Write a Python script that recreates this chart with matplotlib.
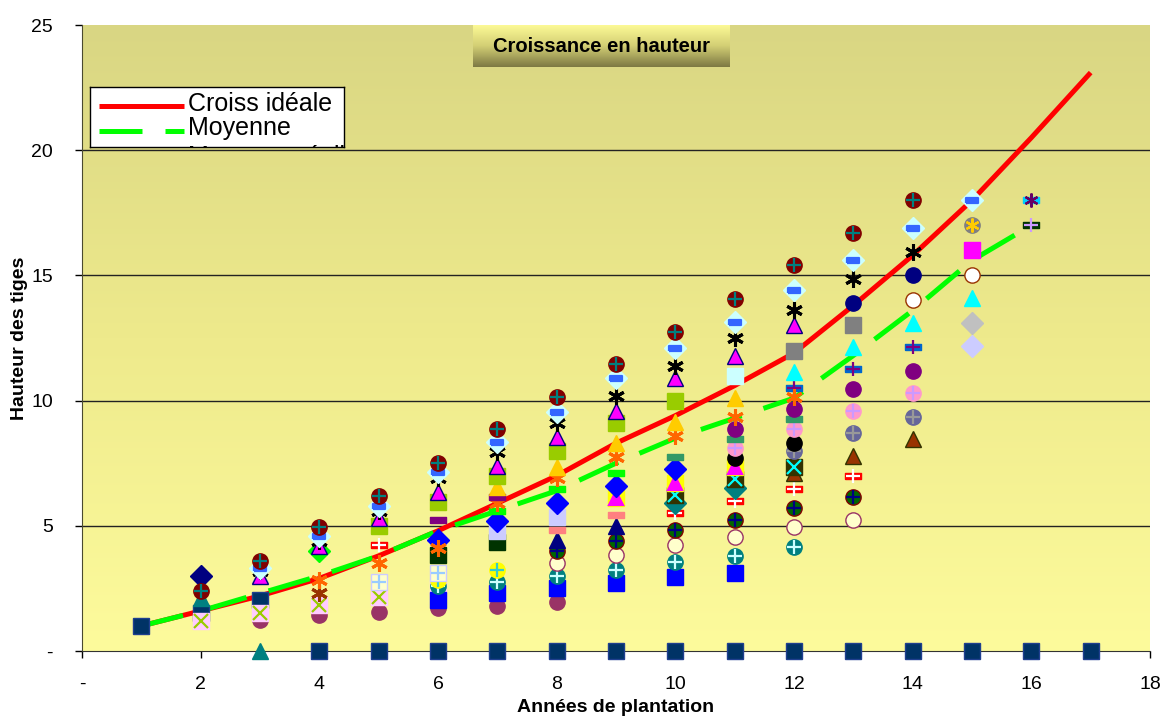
import numpy as np
import matplotlib.pyplot as plt
from matplotlib.colors import LinearSegmentedColormap
from matplotlib.ticker import FuncFormatter, MultipleLocator

plt.rcParams['font.family'] = ['Liberation Sans', 'DejaVu Sans']

N = np.nan
annees = list(range(1, 18))

# courbes
croiss_ideale = [1.0, 1.6, 2.2, 2.9, 3.8, 4.8, 5.9, 7.0, 8.3, 9.4, 10.6, 11.9, 13.8, 15.8, 18.0, 20.5, 23.1]
moyenne = [1.0, 1.6, 2.3, 3.0, 3.8, 4.8, 5.6, 6.4, 7.5, 8.5, 9.3, 10.1, 11.8, 13.6, 15.6, 17.0, N]

# hauteurs des tiges (une liste par arbre, années 1 à 17)
maroon = [N, 2.4, 3.6, 4.95, 6.2, 7.5, 8.85, 10.15, 11.45, 12.75, 14.05, 15.4, 16.7, 18.0, N, N, N]
diamant = [N, N, 3.3, 4.6, 5.8, 7.15, 8.35, 9.55, 10.9, 12.1, 13.15, 14.4, 15.6, 16.9, 18.0, N, N]
asterisque = [N, N, 3.2, 4.4, 5.6, 6.9, 7.95, 9.1, 10.2, 11.4, 12.5, 13.6, 14.85, 15.95, N, N, N]
tri_magenta = [N, N, 3.0, 4.2, 5.3, 6.35, 7.4, 8.55, 9.6, 10.9, 11.8, 13.0, N, N, N, N, N]
rond_marine = [N, N, N, N, N, N, N, N, N, N, N, N, 13.9, 15.0, N, N, N]
carre_olive = [N, N, N, N, 5.0, 5.95, 7.0, 8.0, 9.1, 10.0, N, N, N, N, N, N, N]
carre_cyan = [N, N, N, N, N, N, N, N, N, N, 11.0, N, N, N, N, N, N]
carre_gris = [N, N, N, N, N, N, N, N, N, N, N, 12.0, 13.0, N, N, N, N]
rond_gris = [N, N, N, N, N, N, N, N, N, N, N, N, N, N, 17.0, N, N]
carre_magenta = [N, N, N, N, N, N, N, N, N, N, N, N, N, N, 16.0, N, N]
rond_blanc = [N, N, N, N, N, N, N, N, N, N, N, N, N, 14.0, 15.0, N, N]
tri_jaune = [N, N, N, N, N, N, 6.55, 7.35, 8.3, 9.15, 10.1, N, N, N, N, N, N]
tri_turquoise = [N, N, N, N, N, N, N, N, N, N, N, 11.15, 12.15, 13.1, 14.1, N, N]
ast_orange = [N, N, N, 2.85, 3.5, 4.1, 5.9, 6.9, 7.75, 8.6, 9.35, 10.15, N, N, N, N, N]
rect_bleu = [N, N, N, N, N, N, N, N, N, N, N, 10.5, 11.25, 12.15, N, N, N]
rond_violet = [N, N, N, N, N, N, N, N, N, N, 8.85, 9.65, 10.45, 11.2, N, N, N]
rect_vert = [N, N, N, N, N, N, 5.6, 6.45, 7.1, N, N, N, N, N, N, N, N]
rect_vert_mer = [N, N, N, N, N, N, N, N, N, 7.75, 8.45, 9.25, N, N, N, N, N]
losange_bleu = [N, N, N, N, N, 4.45, 5.2, 5.9, 6.6, 7.25, N, N, N, N, N, N, N]
rond_rose = [N, N, N, N, N, N, N, N, N, N, 8.1, 8.85, 9.6, 10.3, N, N, N]
rond_noir = [N, N, N, N, N, N, N, N, N, N, 7.7, 8.3, N, N, N, N, N]
rond_ardoise = [N, N, N, N, N, N, N, N, N, N, N, 8.0, 8.7, 9.35, N, N, N]
tri_magenta_j = [N, N, N, N, N, N, N, N, 6.1, 6.7, 7.35, N, N, N, N, N, N]
x_cyan = [N, N, N, N, N, N, N, N, N, 6.25, 6.85, 7.35, N, N, N, N, N]
losange_sarcelle = [N, N, N, N, N, N, N, N, N, 5.9, 6.5, N, N, N, N, N, N]
tri_brun = [N, N, N, N, N, N, N, N, N, N, N, 7.1, 7.8, 8.45, N, N, N]
rect_rouge = [N, N, N, N, 4.25, N, N, N, N, 5.5, 6.0, 6.45, 7.0, N, N, N, N]
carre_lavande = [N, N, N, N, N, N, 4.8, 5.35, N, N, N, N, N, N, N, N, N]
rect_saumon = [N, N, N, N, N, N, N, 4.85, 5.45, N, N, N, N, N, N, N, N]
tri_marine = [N, N, N, N, N, N, N, 4.45, 5.0, N, N, N, N, N, N, N, N]
carre_vert_fonce = [N, N, N, N, N, 3.85, 4.35, N, N, N, N, N, N, N, N, N, N]
rond_vert = [N, N, N, N, N, N, N, 4.0, 4.4, 4.85, 5.25, 5.7, 6.15, N, N, N, N]
rond_creme = [N, N, N, N, N, N, N, 3.5, 3.85, 4.25, 4.55, 4.95, 5.25, N, N, N, N]
ast_sarcelle = [N, N, N, N, N, 2.6, 2.75, 3.0, 3.25, 3.55, 3.8, 4.15, N, N, N, N, N]
carre_bleu = [N, N, N, N, N, 2.05, 2.3, 2.5, 2.7, 2.95, 3.1, N, N, N, N, N, N]
rond_prune = [N, N, 1.25, 1.45, 1.55, 1.7, 1.8, 1.95, N, N, N, N, N, N, N, N, N]
x_olive = [N, 1.2, 1.5, 1.85, 2.15, 2.5, N, N, N, N, N, N, N, N, N, N, N]
carre_marine = [1.0, 1.5, 2.05, 0, 0, 0, 0, 0, 0, 0, 0, 0, 0, 0, 0, 0, 0]
tri_sarcelle = [N, 2.1, 0, N, N, N, N, N, N, N, N, N, N, N, N, N, N]
tri_gris = [N, N, 3.05, N, N, N, N, N, N, N, N, N, N, N, N, N, N]
losange_vert = [N, N, N, 4.0, N, N, N, N, N, N, N, N, N, N, N, N, N]
losange_marine = [N, 3.0, N, N, N, N, N, N, N, N, N, N, N, N, N, N, N]
rond_jaune = [N, N, N, N, N, 2.85, 3.25, N, N, N, N, N, N, N, N, N, N]
carre_creme = [N, N, N, N, 2.75, 3.1, N, N, N, N, N, N, N, N, N, N, N]
ast_brun = [N, N, N, 2.3, N, N, N, N, N, N, N, N, N, N, N, N, N]
rect_violet = [N, N, N, N, N, 5.25, 6.15, N, N, N, N, N, N, N, N, N, N]
losange_argent = [N, N, N, N, N, N, N, N, N, N, N, N, N, N, 13.1, N, N]
losange_lavande = [N, N, N, N, N, N, N, N, N, N, N, N, N, N, 12.2, N, N]
rect_cyan = [N, N, N, N, N, N, N, N, N, N, N, N, N, N, N, 18.0, N]
rect_vert_f = [N, N, N, N, N, N, N, N, N, N, N, N, N, N, N, 17.0, N]

RECT = [(-1, -0.45), (1, -0.45), (1, 0.45), (-1, 0.45), (-1, -0.45)]
AST = (6, 2, 0)

# (valeurs, marqueur, fond, bord, marqueur superposé, couleur superposée)
series = [
    (carre_marine, 's', '#003366', '#1f3f8f', None, None),
    (tri_sarcelle, '^', '#008080', '#008080', None, None),
    (rond_prune, 'o', '#993366', '#993366', None, None),
    (x_olive, 's', '#ffccff', '#ffccff', 'x', '#99cc00'),
    (carre_bleu, 's', '#0000ff', '#0000ff', None, None),
    (ast_sarcelle, 'o', '#008080', '#008080', '+', '#ccffff'),
    (rond_creme, 'o', '#ffffcc', '#993366', None, None),
    (rond_vert, 'o', '#006600', '#800000', '+', '#000080'),
    (carre_vert_fonce, 's', '#003300', '#003300', None, None),
    (rond_jaune, 'o', '#ffff00', '#ffff00', '+', '#33cccc'),
    (carre_creme, 's', '#ffffcc', '#ccccff', '+', '#99ccff'),
    (ast_brun, AST, '#993300', '#993300', None, None),
    (tri_marine, '^', '#000080', '#000080', None, None),
    (rect_saumon, RECT, '#ff8080', '#ff8080', None, None),
    (carre_lavande, 's', '#ccccff', '#ccccff', None, None),
    (rect_rouge, RECT, '#ff0000', '#ff0000', '+', '#ffffff'),
    (tri_brun, '^', '#993300', '#333300', None, None),
    (losange_sarcelle, 'D', '#008080', '#008080', None, None),
    (x_cyan, 's', '#333300', '#333300', 'x', '#00ffff'),
    (tri_magenta_j, 's', '#ffff00', '#ffff00', '^', '#ff00ff'),
    (rond_ardoise, 'o', '#666699', '#666699', '+', '#999999'),
    (rond_noir, 'o', '#000000', '#000000', None, None),
    (rond_rose, 'o', '#ff99cc', '#ff99cc', '+', '#cc99ff'),
    (losange_bleu, 'D', '#0000ff', '#0000ff', None, None),
    (rect_vert_mer, RECT, '#339966', '#339966', None, None),
    (rect_vert, RECT, '#00ff00', '#00ff00', None, None),
    (rond_violet, 'o', '#800080', '#800080', None, None),
    (rect_bleu, RECT, '#0066cc', '#0066cc', '+', '#800080'),
    (ast_orange, AST, '#ff6600', '#ff6600', None, None),
    (rect_violet, RECT, '#800080', '#800080', None, None),
    (tri_turquoise, '^', '#00ffff', '#00ffff', None, None),
    (tri_jaune, '^', '#ffcc00', '#ffcc00', None, None),
    (tri_gris, '^', '#c0c0c0', '#c0c0c0', None, None),
    (losange_vert, 'D', '#00ff00', '#00ff00', None, None),
    (losange_marine, 'D', '#000080', '#000080', None, None),
    (rond_blanc, 'o', '#ffffff', '#993300', None, None),
    (carre_magenta, 's', '#ff00ff', '#ff00ff', None, None),
    (rond_gris, 'o', '#808080', '#808080', AST, '#ffcc00'),
    (carre_gris, 's', '#808080', '#808080', None, None),
    (carre_cyan, 's', '#ccffff', '#ccffff', None, None),
    (carre_olive, 's', '#99cc00', '#99cc00', None, None),
    (rond_marine, 'o', '#000080', '#000080', None, None),
    (tri_magenta, '^', '#ff00ff', '#000080', None, None),
    (asterisque, AST, '#000000', '#000000', None, None),
    (diamant, 'D', '#ccffff', '#ccffff', RECT, '#3366ff'),
    (maroon, 'o', '#800000', '#800000', '+', '#008080'),
    (losange_argent, 'D', '#c0c0c0', '#c0c0c0', None, None),
    (losange_lavande, 'D', '#ccccff', '#ccccff', None, None),
    (rect_cyan, RECT, '#00ccff', '#00ccff', AST, '#660066'),
    (rect_vert_f, RECT, '#003300', '#003300', '+', '#cc99ff'),
]

W, H = 1166, 719
fig = plt.figure(figsize=(W / 100, H / 100), dpi=100)
ax = fig.add_axes([82 / W, 1 - 651 / H, (1150 - 82) / W, (651 - 25) / H])

# fond dégradé
bg = LinearSegmentedColormap.from_list('bg', ['#fdfb9c', '#eeea8c', '#d9d683'])
ax.imshow(np.linspace(0, 1, 256).reshape(-1, 1)[::-1], cmap=bg, aspect='auto',
          extent=[0, 1, 0, 1], transform=ax.transAxes, zorder=0)

ax.set_xlim(0, 18)
ax.set_ylim(0, 25)
for yv in [5, 10, 15, 20]:
    ax.axhline(yv, color='#222222', lw=1.0, zorder=1)

ax.plot(annees, croiss_ideale, color='#ff0000', lw=3.6, zorder=2, solid_capstyle='butt')
ax.plot(annees, moyenne, color='#00ff00', lw=3.6, zorder=2, dashes=(8.6, 4.6))

for vals, mk, fc, ec, ov, oc in series:
    big = mk == AST
    ax.plot(annees, vals, ls='none', marker=mk, ms=12 if big else 11, mfc=fc, mec=ec,
            mew=2.2 if big else 1, zorder=3, clip_on=False)
    if ov is not None:
        ax.plot(annees, vals, ls='none', marker=ov, ms=10 if ov != RECT else 8,
                mfc=oc, mec=oc, mew=1.6, zorder=3, clip_on=False)

fmt = FuncFormatter(lambda v, p: '-' if v == 0 else f'{v:g}')
ax.xaxis.set_major_locator(MultipleLocator(2))
ax.yaxis.set_major_locator(MultipleLocator(5))
ax.xaxis.set_major_formatter(fmt)
ax.yaxis.set_major_formatter(fmt)
ax.tick_params(axis='x', length=5, width=1, pad=13, labelsize=14)
ax.tick_params(axis='y', length=5, width=1, pad=16, labelsize=14)
for s in ['top', 'right']:
    ax.spines[s].set_visible(False)
ax.spines['left'].set_color('#4a4a30')
ax.spines['bottom'].set_color('#333333')
ax.spines['bottom'].set_zorder(2.5)

ax.set_xlabel('Années de plantation', fontsize=14, fontweight='bold')
ax.set_ylabel('Hauteur des tiges', fontsize=14, fontweight='bold')
ax.xaxis.set_label_coords(0.5, -0.076)
ax.yaxis.set_label_coords(-0.051, 0.5)

# titre dans un cadre dégradé
tax = fig.add_axes([473 / W, 1 - 67 / H, 257 / W, 42 / H])
tg = LinearSegmentedColormap.from_list('tg', ['#fcf995', '#d2ce74', '#7e7a44'])
tax.imshow(np.linspace(0, 1, 64).reshape(-1, 1), cmap=tg, aspect='auto', extent=[0, 1, 0, 1])
tax.set_xlim(0, 1)
tax.set_ylim(0, 1)
tax.axis('off')
tax.text(0.5, 0.5, 'Croissance en hauteur', ha='center', va='center',
         fontsize=14.5, fontweight='bold', color='black')

# légende (troisième entrée coupée comme dans l'original)
lax = fig.add_axes([90 / W, 1 - 147 / H, 254 / W, 60 / H])
lax.set_xlim(0, 254)
lax.set_ylim(60, 0)
lax.set_facecolor('white')
lax.set_xticks([])
lax.set_yticks([])
for s in lax.spines.values():
    s.set_color('black')
    s.set_linewidth(1)
lax.plot([9, 94], [19, 19], color='#ff0000', lw=3.6, solid_capstyle='butt')
lax.plot([9, 94], [44, 44], color='#00ff00', lw=3.6, dashes=(8.6, 4.6))
lax.text(98, 17, 'Croiss idéale', fontsize=18, va='center', clip_on=True)
lax.text(98, 41, 'Moyenne', fontsize=18, va='center', clip_on=True)
lax.text(98, 70, 'Moyenne réelle', fontsize=18, va='center', clip_on=True)

fig.savefig('out.png', dpi=100)
